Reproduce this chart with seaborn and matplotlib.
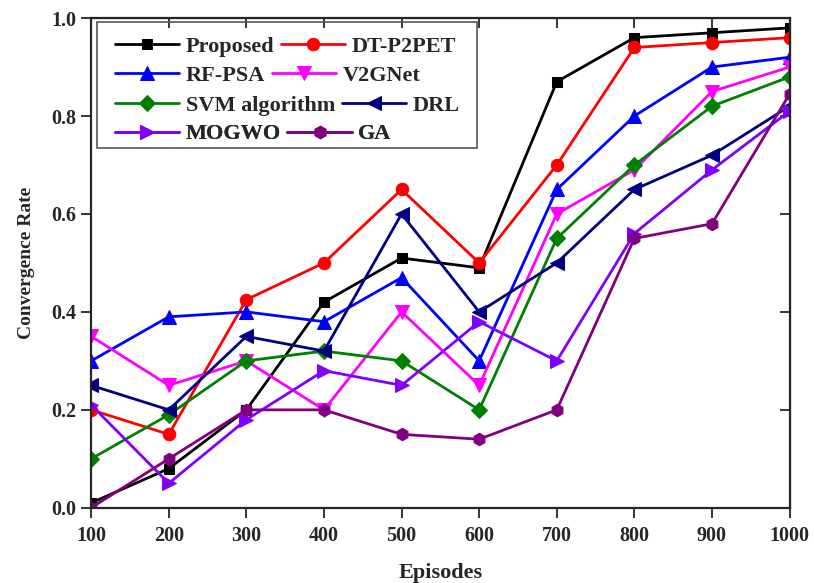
import matplotlib
matplotlib.use("Agg")
import matplotlib.pyplot as plt
from matplotlib.patches import Rectangle
import seaborn as sns
import pandas as pd

episodes = [100, 200, 300, 400, 500, 600, 700, 800, 900, 1000]
proposed = [0.01, 0.08, 0.20, 0.42, 0.51, 0.49, 0.87, 0.96, 0.97, 0.98]
dt_p2pet = [0.20, 0.15, 0.425, 0.50, 0.65, 0.50, 0.70, 0.94, 0.95, 0.96]
rf_psa = [0.30, 0.39, 0.40, 0.38, 0.47, 0.30, 0.65, 0.80, 0.90, 0.92]
v2gnet = [0.35, 0.25, 0.30, 0.20, 0.40, 0.25, 0.60, 0.69, 0.85, 0.90]
svm = [0.10, 0.19, 0.30, 0.32, 0.30, 0.20, 0.55, 0.70, 0.82, 0.88]
drl = [0.25, 0.20, 0.35, 0.32, 0.60, 0.40, 0.50, 0.65, 0.72, 0.82]
mogwo = [0.21, 0.05, 0.18, 0.28, 0.25, 0.38, 0.30, 0.56, 0.69, 0.81]
ga = [0.00, 0.10, 0.20, 0.20, 0.15, 0.14, 0.20, 0.55, 0.58, 0.845]

names = ["Proposed", "DT-P2PET", "RF-PSA", "V2GNet", "SVM algorithm", "DRL", "MOGWO", "GA"]
series = [proposed, dt_p2pet, rf_psa, v2gnet, svm, drl, mogwo, ga]
colors = ["#000000", "#FF0000", "#0000FF", "#FF00FF", "#008000", "#000080", "#8000FF", "#800080"]
markers = ["s", "o", "^", "v", "D", "<", ">", "h"]
msizes = [7.5, 9, 9.5, 9.5, 8, 9.5, 9.5, 9]

sns.set_style("ticks")
plt.rcParams['font.family'] = ['Liberation Serif', 'DejaVu Serif']
plt.rcParams['font.weight'] = 'bold'

fig = plt.figure(figsize=(8.14, 5.83), dpi=100)
ax = fig.add_axes([0.112, 0.129, 0.858, 0.840])

for name, vals, c, m, ms in zip(names, series, colors, markers, msizes):
    df = pd.DataFrame({"Episodes": episodes, "Rate": vals})
    sns.lineplot(data=df, x="Episodes", y="Rate", ax=ax, color=c, marker=m,
                 markersize=ms, markeredgecolor=c, linewidth=2.0, label=name)

ax.set_xlim(100, 1000)
ax.set_ylim(0.0, 1.0)
ax.set_xticks(episodes)
ax.set_yticks([0.0, 0.2, 0.4, 0.6, 0.8, 1.0])
ax.set_xlabel("Episodes", fontsize=16, fontweight='bold', labelpad=12)
ax.set_ylabel("Convergence Rate", fontsize=14, fontweight='bold', labelpad=12)
for lab in ax.get_xticklabels() + ax.get_yticklabels():
    lab.set_fontweight('bold')
    lab.set_fontsize(14.5)
ax.tick_params(which='both', direction='out', length=7, width=1.3)
ax.tick_params(axis='x', pad=6)
for s in ax.spines.values():
    s.set_linewidth(1.6)
    s.set_visible(True)

# mirror ticks inward on top/right
ax2 = ax.secondary_xaxis('top')
ax2.set_xticks(episodes)
ax2.tick_params(direction='in', length=7, width=1.3, labeltop=False)
ax3 = ax.secondary_yaxis('right')
ax3.set_yticks([0.0, 0.2, 0.4, 0.6, 0.8, 1.0])
ax3.tick_params(direction='in', length=7, width=1.3, labelright=False)

# legend: one row at a time (entries flow like the original), inside a single frame
h, l = ax.get_legend_handles_labels()
ax.get_legend().remove()
row_y = [0.941, 0.882, 0.821, 0.763]
for r, yc in enumerate(row_y):
    idx = [2 * r, 2 * r + 1]
    lg = ax.legend([h[i] for i in idx], [l[i] for i in idx], ncol=2,
                   loc='center left', bbox_to_anchor=(0.034, yc), frameon=False,
                   columnspacing=0.3, handlelength=2.9, handletextpad=0.28,
                   borderpad=0.0, borderaxespad=0.0,
                   prop={'weight': 'bold', 'size': 16, 'family': 'Liberation Serif'})
    ax.add_artist(lg)
ax.add_patch(Rectangle((0.0086, 0.7347), 0.5436, 0.2571, transform=ax.transAxes,
                       fill=False, edgecolor='#555555', linewidth=1.2, zorder=5))

fig.savefig("out.png", dpi=100)
